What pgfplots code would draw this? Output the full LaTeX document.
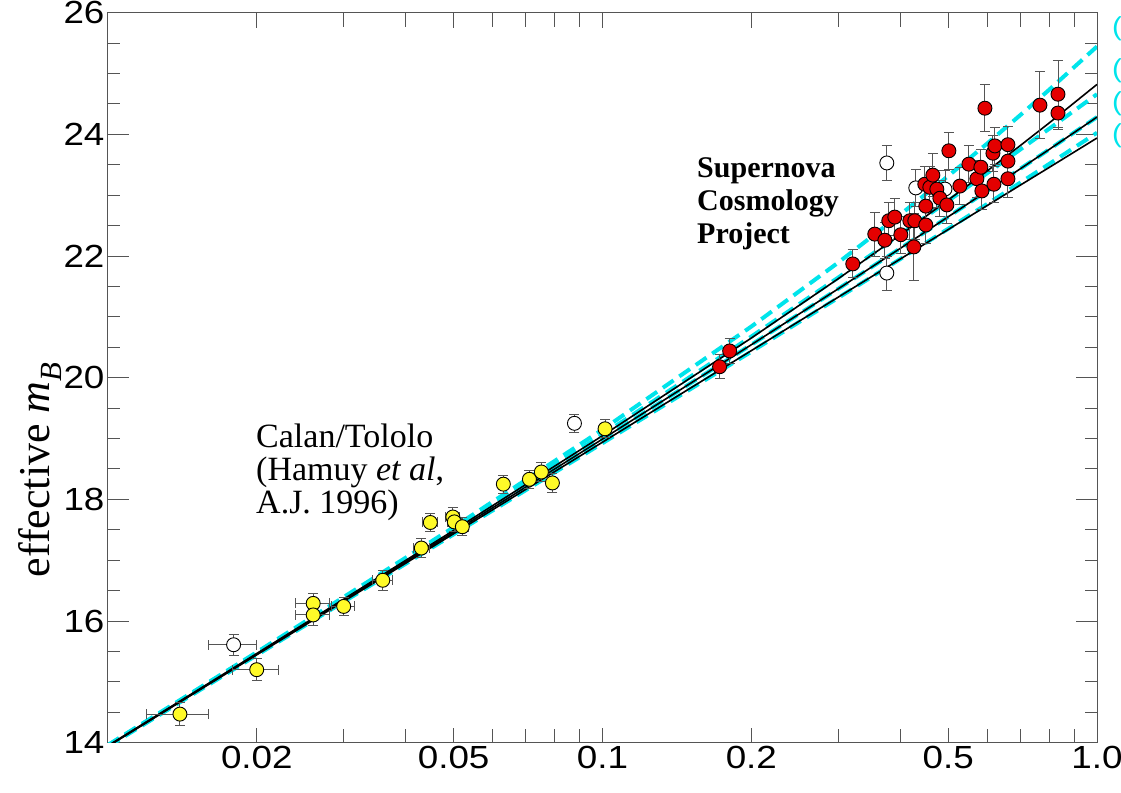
\documentclass[border=0pt]{standalone}
\usepackage{fontspec}
\setmainfont{Liberation Serif}
\newfontfamily\tickfont[FakeStretch=1.15]{Liberation Sans}
\usepackage{pgfplots}
\pgfplotsset{compat=1.18}
\definecolor{cy}{RGB}{0,228,235}
\definecolor{rd}{RGB}{228,0,0}
\definecolor{yl}{RGB}{255,250,40}
\definecolor{eb}{RGB}{85,85,85}
\begin{document}
\begin{tikzpicture}[x=1pt,y=1pt]
\path[use as bounding box] (0,0) rectangle (1121,792);
\begin{axis}[
  at={(108pt,49.3pt)}, anchor=south west, scale only axis,
  width=989pt, height=730pt,
  xmode=log, xmin=0.01, xmax=1, ymin=14, ymax=26,
  xtick={0.02,0.05,0.1,0.2,0.5,1},
  xticklabels={0.02,0.05,0.1,0.2,0.5,1.0},
  minor xtick={0.03,0.04,0.06,0.07,0.08,0.09,0.3,0.4,0.6,0.7,0.8,0.9},
  ytick={14,16,18,20,22,24,26},
  minor y tick num=3,
  tick pos=both, tick align=inside,
  xtick style={/pgfplots/major tick length=15pt,/pgfplots/minor tick length=14pt},
  ytick style={/pgfplots/major tick length=21pt,/pgfplots/minor tick length=12pt},
  every tick/.append style={eb, line width=1pt},
  axis line style={eb, line width=1pt},
  ticklabel style={font=\tickfont\fontsize{32}{32}\selectfont},
  /pgf/number format/assume math mode=true,
  ylabel={effective \textit{m}\textsubscript{\textit{B}}},
  ylabel style={font=\fontsize{44}{44}\selectfont, at={(axis description cs:-0.0688,0.374)}, anchor=center},
  clip=true,
]
% flat models (dashed cyan)
\addplot[cy, line width=4pt, dash pattern=on 13pt off 7pt] coordinates {
(0.01,13.962)(0.02,15.488)(0.05,17.541)(0.1,19.147)(0.2,20.841)(0.3,21.895)(0.4,22.681)(0.5,23.315)(0.6,23.851)(0.7,24.318)(0.8,24.732)(1.0,25.445)};
\addplot[cy, line width=4pt, dash pattern=on 13pt off 7pt] coordinates {
(0.01,13.958)(0.02,15.480)(0.05,17.500)(0.1,19.065)(0.2,20.676)(0.3,21.648)(0.4,22.352)(0.5,22.906)(0.6,23.363)(0.7,23.752)(0.8,24.091)(1.0,24.660)};
\addplot[cy, line width=4pt, dash pattern=on 13pt off 7pt] coordinates {
(0.01,13.945)(0.02,15.456)(0.05,17.461)(0.1,18.991)(0.2,20.542)(0.3,21.463)(0.4,22.125)(0.5,22.644)(0.6,23.071)(0.7,23.435)(0.8,23.751)(1.0,24.284)};
\addplot[cy, line width=4pt, dash pattern=on 13pt off 7pt] coordinates {
(0.01,13.937)(0.02,15.440)(0.05,17.425)(0.1,18.924)(0.2,20.428)(0.3,21.315)(0.4,21.950)(0.5,22.447)(0.6,22.857)(0.7,23.207)(0.8,23.512)(1.0,24.026)};
% Lambda = 0 models (solid black)
\addplot[black, line width=1.6pt] coordinates {
(0.01,13.951)(0.02,15.467)(0.05,17.489)(0.1,19.046)(0.2,20.652)(0.3,21.629)(0.4,22.346)(0.5,22.920)(0.6,23.400)(0.7,23.817)(0.8,24.186)(1.0,24.821)};
\addplot[black, line width=1.6pt] coordinates {
(0.01,13.945)(0.02,15.456)(0.05,17.461)(0.1,18.991)(0.2,20.542)(0.3,21.463)(0.4,22.125)(0.5,22.644)(0.6,23.071)(0.7,23.435)(0.8,23.751)(1.0,24.284)};
\addplot[black, line width=1.6pt] coordinates {
(0.01,13.940)(0.02,15.445)(0.05,17.435)(0.1,18.940)(0.2,20.445)(0.3,21.326)(0.4,21.950)(0.5,22.435)(0.6,22.831)(0.7,23.166)(0.8,23.455)(1.0,23.940)};
% open low-z points
\addplot[black, only marks, mark=*, mark size=7pt, mark options={fill=white, draw=black, line width=0.9pt},
  error bars/.cd, x dir=both, x explicit, y dir=both, y explicit,
  error bar style={eb, line width=0.9pt},
  error mark options={rotate=90, eb, mark size=5pt, line width=0.9pt}] coordinates {
(0.01795,15.61) +- (0.0020,0.17)
(0.08776,19.25) +- (0.0000,0.15)
};
% Calan/Tololo
\addplot[black, only marks, mark=*, mark size=7pt, mark options={fill=yl, draw=black, line width=0.9pt},
  error bars/.cd, x dir=both, x explicit, y dir=both, y explicit,
  error bar style={eb, line width=0.9pt},
  error mark options={rotate=90, eb, mark size=5pt, line width=0.9pt}] coordinates {
(0.01398,14.47) +- (0.0020,0.19)
(0.01999,15.20) +- (0.0021,0.18)
(0.0260,16.29) +- (0.0021,0.17)
(0.0260,16.10) +- (0.0021,0.18)
(0.02997,16.24) +- (0.0016,0.15)
(0.03595,16.67) +- (0.0017,0.16)
(0.04302,17.20) +- (0.0016,0.15)
(0.04486,17.62) +- (0.0016,0.15)
(0.04982,17.71) +- (0.0016,0.15)
(0.05017,17.63) +- (0.0016,0.15)
(0.05207,17.55) +- (0.0016,0.15)
(0.06303,18.25) +- (0.0000,0.15)
(0.07117,18.33) +- (0.0000,0.15)
(0.07524,18.45) +- (0.0000,0.15)
(0.07921,18.27) +- (0.0000,0.15)
(0.1012,19.16) +- (0.0000,0.15)
};
% open high-z points
\addplot[black, only marks, mark=*, mark size=7pt, mark options={fill=white, draw=black, line width=0.9pt},
  error bars/.cd, y dir=both, y explicit,
  error bar style={eb, line width=0.9pt},
  error mark options={rotate=90, eb, mark size=5pt, line width=0.9pt}] coordinates {
(0.3758,23.53) +- (0,0.28)
(0.3758,21.72) +- (0,0.28)
(0.4301,23.12) +- (0,0.30)
(0.4927,23.10) +- (0,0.30)
};
% Supernova Cosmology Project
\addplot[black, only marks, mark=*, mark size=7pt, mark options={fill=rd, draw=black, line width=0.9pt},
  error bars/.cd, y dir=both, y explicit,
  error bar style={eb, line width=0.9pt},
  error mark options={rotate=90, eb, mark size=5pt, line width=0.9pt}] coordinates {
(0.1725,20.18) +- (0,0.20)
(0.1808,20.44) +- (0,0.20)
(0.3207,21.87) +- (0,0.23)
(0.3553,22.36) +- (0,0.36)
(0.3724,22.26) +- (0,0.30)
(0.3793,22.58) +- (0,0.30)
(0.3901,22.64) +- (0,0.30)
(0.4011,22.35) +- (0,0.30)
(0.4183,22.58) +- (0,0.30)
(0.4281,22.58) +- (0,0.30)
(0.4262,22.15) +- (0,0.55)
(0.4506,22.51) +- (0,0.30)
(0.4506,22.82) +- (0,0.30)
(0.4485,23.18) +- (0,0.30)
(0.4591,23.13) +- (0,0.35)
(0.4656,23.33) +- (0,0.35)
(0.4744,23.10) +- (0,0.30)
(0.4811,22.95) +- (0,0.30)
(0.4971,22.84) +- (0,0.30)
(0.5017,23.73) +- (0,0.30)
(0.5281,23.15) +- (0,0.30)
(0.5507,23.51) +- (0,0.30)
(0.5716,23.27) +- (0,0.30)
(0.5824,23.46) +- (0,0.30)
(0.5851,23.07) +- (0,0.30)
(0.5934,24.43) +- (0,0.39)
(0.6160,23.69) +- (0,0.30)
(0.6217,23.81) +- (0,0.30)
(0.6188,23.18) +- (0,0.30)
(0.6606,23.83) +- (0,0.30)
(0.6606,23.56) +- (0,0.30)
(0.6606,23.27) +- (0,0.30)
(0.7667,24.48) +- (0,0.55)
(0.8338,24.66) +- (0,0.55)
(0.8338,24.35) +- (0,0.27)
};
\end{axis}
% annotations
\node[anchor=base west, inner sep=0, font=\fontsize{34}{34}\selectfont] at (256,344) {Calan/Tololo};
\node[anchor=base west, inner sep=0, font=\fontsize{34}{34}\selectfont] at (256,311) {(Hamuy \textit{et al},};
\node[anchor=base west, inner sep=0, font=\fontsize{34}{34}\selectfont] at (256,278) {A.J. 1996)};
\node[anchor=base west, inner sep=0, font=\bfseries\fontsize{30}{30}\selectfont] at (697,614) {Supernova};
\node[anchor=base west, inner sep=0, font=\bfseries\fontsize{30}{30}\selectfont] at (697,581) {Cosmology};
\node[anchor=base west, inner sep=0, font=\bfseries\fontsize{30}{30}\selectfont] at (697,548) {Project};
% right-hand model labels (cut off by the edge of the figure, as in the reference)
\node[anchor=west, inner sep=0, text=cy, font=\tickfont\fontsize{26}{26}\selectfont] at (1112,763) {(0, 1)};
\node[anchor=west, inner sep=0, text=cy, font=\tickfont\fontsize{26}{26}\selectfont] at (1112,721) {(0.5, 0.5)};
\node[anchor=west, inner sep=0, text=cy, font=\tickfont\fontsize{26}{26}\selectfont] at (1112,688) {(1, 0)};
\node[anchor=west, inner sep=0, text=cy, font=\tickfont\fontsize{26}{26}\selectfont] at (1112,656) {(1.5, -0.5)};
\end{tikzpicture}
\end{document}
